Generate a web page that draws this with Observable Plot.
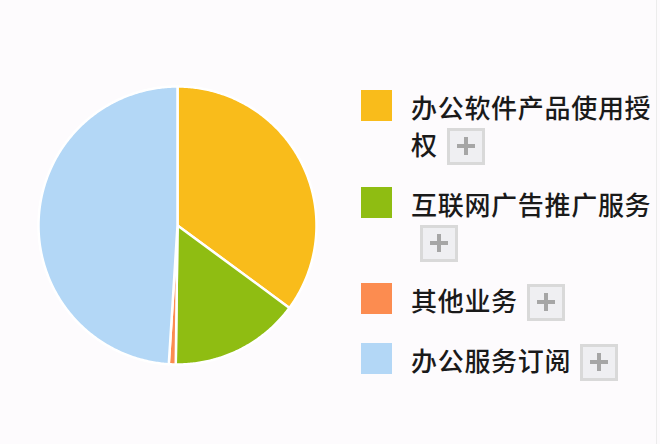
<!DOCTYPE html>
<html>
<head>
<meta charset="utf-8">
<script src="https://cdn.jsdelivr.net/npm/d3@7"></script>
<script src="https://cdn.jsdelivr.net/npm/@observablehq/plot@0.6"></script>
<style>
  html, body { margin: 0; padding: 0; background: #fdfbfd; }
  #wrap { position: relative; width: 660px; height: 444px; overflow: hidden; background: #fdfbfd; }
  #edge { position: absolute; left: 656px; top: 0; width: 1px; height: 444px; background: #ececec; }
  .item { position: absolute; left: 361px; }
  .sw { position: absolute; left: 0; top: 0; width: 31px; height: 31px; }
  .txt { position: absolute; left: 50px; width: 252px; font-family: "Noto Sans CJK SC", sans-serif;
         font-size: 26px; font-weight: 500; letter-spacing: 0.7px; line-height: 37px; color: #1a1a1a; }
  .plus { display: inline-block; vertical-align: middle; margin-left: 9px; margin-top: -3px; width: 32px; height: 31px;
          border: 3px solid #d9d9d9; background-color: #efeff2;
          background-image: linear-gradient(#a6a6a6, #a6a6a6), linear-gradient(#a6a6a6, #a6a6a6);
          background-size: 18px 4px, 4px 18px; background-position: center, center; background-repeat: no-repeat; }
</style>
</head>
<body>
<div id="wrap"><div id="chart"></div><div id="edge"></div></div>
<script>
const categories = ["办公软件产品使用授权", "互联网广告推广服务", "其他业务", "办公服务订阅"];
const values = [35.1, 15.1, 0.8, 49.0];
const colors = ["#f9bc1b", "#8fbd12", "#fc8c50", "#b3d7f6"];
const legendTops = [90, 187, 283, 343];

const arcs = d3.pie().sort(null).value(d => d.value)(categories.map((name, i) => ({name, value: values[i]})));
function ring(a0, a1) {
  const pts = [[0, 0]];
  const n = Math.max(2, Math.ceil((a1 - a0) / 0.01));
  for (let k = 0; k <= n; k++) {
    const a = a0 + (a1 - a0) * k / n;
    pts.push([Math.sin(a), Math.cos(a)]);
  }
  pts.push([0, 0]);
  return pts;
}
const features = arcs.map(a => ({
  type: "Feature",
  properties: {name: a.data.name},
  geometry: {type: "Polygon", coordinates: [ring(a.startAngle, a.endAngle)]}
}));
const full = {type: "Polygon", coordinates: [ring(0, 2 * Math.PI)]};

const plot = Plot.plot({
  width: 660,
  height: 444,
  marginLeft: 38,
  marginRight: 344,
  marginTop: 86,
  marginBottom: 80,
  projection: {type: "reflect-y", domain: full},
  color: {domain: categories, range: colors},
  marks: [
    Plot.geo(features, {fill: d => d.properties.name, stroke: "#ffffff", strokeWidth: 2.5})
  ],
  style: {background: "transparent"}
});
document.getElementById("chart").appendChild(plot);

const wrap = document.getElementById("wrap");
categories.forEach((name, i) => {
  const item = document.createElement("div");
  item.className = "item";
  item.style.top = legendTops[i] + "px";
  const sw = document.createElement("div");
  sw.className = "sw";
  sw.style.background = colors[i];
  const txt = document.createElement("div");
  txt.className = "txt";
  txt.style.top = "-2px";
  txt.appendChild(document.createTextNode(name));
  const plus = document.createElement("span");
  plus.className = "plus";
  txt.appendChild(plus);
  item.appendChild(sw);
  item.appendChild(txt);
  wrap.appendChild(item);
});
</script>
</body>
</html>
